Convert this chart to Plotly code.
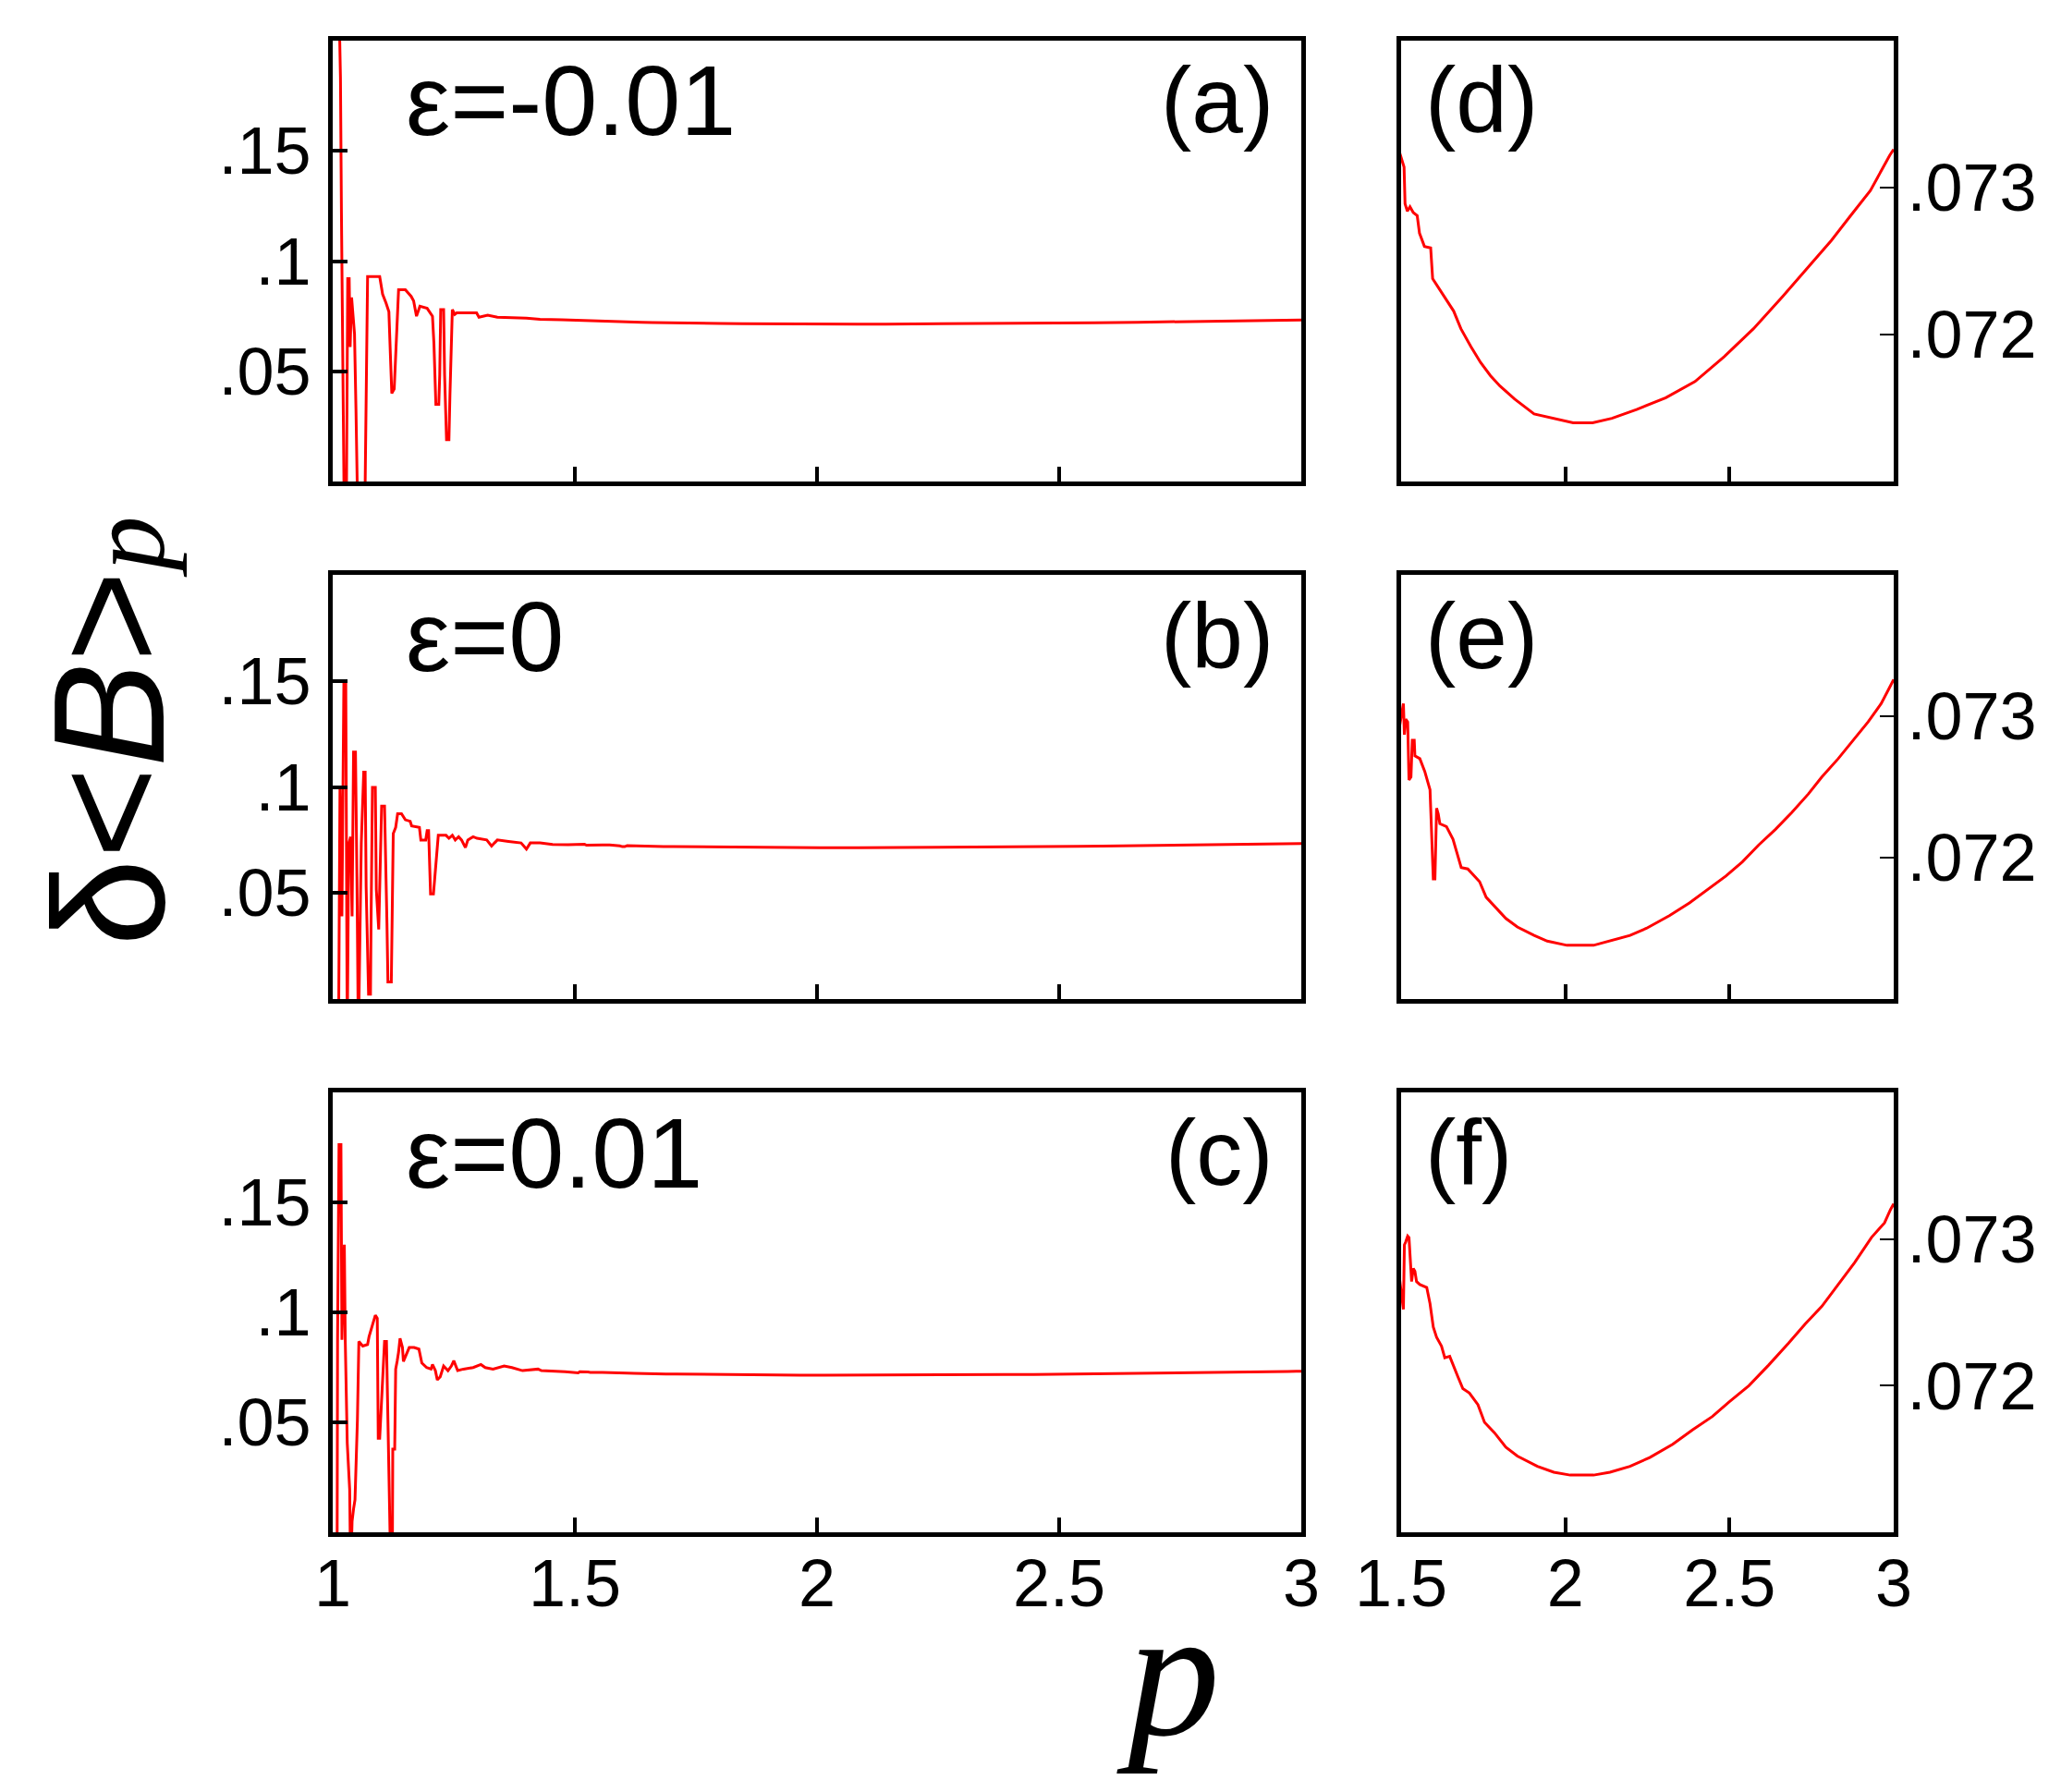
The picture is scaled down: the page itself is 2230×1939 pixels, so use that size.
import plotly.graph_objects as go

# ---- data: p and delta<B>_p for the three epsilon values ----
p_neg = [1.004, 1.013, 1.016, 1.018, 1.021, 1.024, 1.028, 1.031, 1.034, 1.036, 1.039, 1.042, 1.045,
         1.048, 1.052, 1.066, 1.069, 1.072, 1.097, 1.103, 1.110, 1.116, 1.119, 1.122, 1.127, 1.130,
         1.133, 1.136, 1.150, 1.162, 1.167, 1.173, 1.180, 1.195, 1.206, 1.209, 1.213, 1.219, 1.221,
         1.223, 1.229, 1.231, 1.235, 1.240, 1.242, 1.244, 1.247, 1.252, 1.256, 1.297, 1.302, 1.320,
         1.340, 1.400, 1.428, 1.473,
         1.509, 1.512, 1.519, 1.527, 1.537, 1.549, 1.556, 1.571, 1.590, 1.596, 1.616, 1.638, 1.660,
         1.682, 1.712, 1.742, 1.772, 1.801, 1.846, 1.905, 1.964, 2.024, 2.083, 2.142, 2.217, 2.306,
         2.395, 2.484, 2.573, 2.662, 2.736, 2.810, 2.869, 2.929, 2.988, 3.000]
b_neg = [0.32, 0.215, 0.183, 0.122, 0.061, -0.02, -0.02, 0.092, 0.092, 0.061, 0.0835, 0.075, 0.067,
         0.033, -0.02, -0.02, 0.047, 0.093, 0.093, 0.085, 0.081, 0.077, 0.058, 0.040, 0.042, 0.058,
         0.075, 0.087, 0.087, 0.084, 0.082, 0.075, 0.0795, 0.0786, 0.075, 0.0625, 0.035, 0.035, 0.0485,
         0.078, 0.078, 0.0485, 0.019, 0.019, 0.0387, 0.058, 0.078, 0.0758, 0.0765, 0.0765, 0.0745, 0.0755,
         0.0745, 0.0741, 0.0736, 0.0734,
         0.07314, 0.07289, 0.07284, 0.07287, 0.07283, 0.07281, 0.07269, 0.07260, 0.07259, 0.07238,
         0.07231, 0.07223, 0.07216, 0.07204, 0.07192, 0.07181, 0.07172, 0.07165, 0.07156, 0.07146,
         0.07143, 0.07140, 0.07140, 0.07143, 0.07149, 0.07157, 0.07168, 0.07185, 0.07204, 0.07226,
         0.07245, 0.07264, 0.07281, 0.07298, 0.07322, 0.07326]

p_zero = [1.000, 1.012, 1.015, 1.019, 1.023, 1.027, 1.030, 1.033, 1.037, 1.040, 1.043, 1.047, 1.050,
          1.053, 1.059, 1.064, 1.067, 1.069, 1.074, 1.078, 1.079, 1.082, 1.088, 1.090, 1.095, 1.098,
          1.101, 1.107, 1.110, 1.112, 1.114, 1.121, 1.123, 1.125, 1.130, 1.134, 1.142, 1.150, 1.160,
          1.163, 1.179, 1.182, 1.192, 1.195, 1.198, 1.200, 1.202, 1.208, 1.211, 1.215, 1.218, 1.234,
          1.240, 1.247, 1.253, 1.260, 1.266, 1.274, 1.279, 1.290, 1.298, 1.318, 1.328, 1.334, 1.340,
          1.363, 1.389, 1.400, 1.408, 1.428, 1.454, 1.486,
          1.507, 1.510, 1.514, 1.520, 1.524, 1.530, 1.534, 1.540, 1.542, 1.557, 1.572, 1.588, 1.593,
          1.598, 1.603, 1.608, 1.613, 1.618, 1.638, 1.658, 1.668, 1.683, 1.703, 1.739, 1.759, 1.794,
          1.819, 1.854, 1.905, 1.945, 2.005, 2.086, 2.136, 2.197, 2.247, 2.317, 2.378, 2.438, 2.489,
          2.539, 2.589, 2.640, 2.690, 2.740, 2.781, 2.831, 2.881, 2.922, 2.962, 2.990, 3.000]
b_zero = [-0.02, -0.02, 0.100, 0.039, 0.1485, 0.1485, -0.02, 0.073, 0.0765, 0.039, 0.1165, 0.1165, 0.0576,
          -0.02, 0.0736, 0.107, 0.107, 0.0532, 0.0023, 0.0023, 0.0328, 0.0998, 0.0998, 0.0517, 0.0328, 0.0619,
          0.091, 0.091, 0.0619, 0.0357, 0.0081, 0.0081, 0.043, 0.078, 0.0809, 0.0874, 0.0874, 0.0845, 0.0838,
          0.0816, 0.0809, 0.075, 0.075, 0.0794, 0.0794, 0.0648, 0.0496, 0.0496, 0.059, 0.0685, 0.0772, 0.0772,
          0.0758, 0.0772, 0.0750, 0.0765, 0.0750, 0.0714, 0.0750, 0.0765, 0.0758, 0.0750, 0.0721, 0.0736, 0.0750,
          0.0743, 0.0736, 0.0707, 0.0736, 0.0736, 0.0729, 0.0728,
          0.07309, 0.07287, 0.07298, 0.07296, 0.07255, 0.07257, 0.07283, 0.07283, 0.07272, 0.07270, 0.07261,
          0.07248, 0.07218, 0.07185, 0.07185, 0.07235, 0.07231, 0.07224, 0.07222, 0.07213, 0.07205, 0.07193,
          0.07192, 0.07183, 0.07172, 0.07163, 0.07157, 0.07151, 0.07145, 0.07141, 0.07138, 0.07138, 0.07141,
          0.07145, 0.07150, 0.07159, 0.07168, 0.07178, 0.07187, 0.07197, 0.07209, 0.07220, 0.07232, 0.07245,
          0.07257, 0.07270, 0.07284, 0.07296, 0.07309, 0.07322, 0.07326]

p_pos = [1.000, 1.009, 1.010, 1.013, 1.017, 1.019, 1.024, 1.026, 1.030, 1.035, 1.037, 1.040, 1.043,
         1.046, 1.051, 1.054, 1.062, 1.072, 1.075, 1.081, 1.088, 1.092, 1.093, 1.094, 1.097, 1.101,
         1.104, 1.107, 1.111, 1.113, 1.115, 1.120, 1.123, 1.124, 1.128, 1.130, 1.133, 1.136, 1.139,
         1.144, 1.146, 1.152, 1.158, 1.168, 1.178, 1.184, 1.194, 1.203, 1.206, 1.212, 1.216, 1.222,
         1.229, 1.238, 1.245, 1.250, 1.258, 1.270, 1.290, 1.306, 1.315, 1.331, 1.354, 1.370, 1.392,
         1.424, 1.431, 1.480,
         1.507, 1.510, 1.514, 1.520, 1.524, 1.527, 1.532, 1.537, 1.542, 1.547, 1.557, 1.578, 1.588,
         1.598, 1.608, 1.623, 1.633, 1.648, 1.658, 1.673, 1.688, 1.708, 1.734, 1.754, 1.784, 1.819,
         1.854, 1.915, 1.965, 2.015, 2.086, 2.136, 2.197, 2.257, 2.327, 2.388, 2.448, 2.499, 2.559,
         2.619, 2.680, 2.730, 2.781, 2.831, 2.881, 2.932, 2.972, 2.990, 3.000]
b_pos = [-0.02, -0.02, 0.0875, 0.1763, 0.1763, 0.0875, 0.1308, 0.0861, 0.0406, 0.0196, -0.02, 0.005, 0.0106,
         0.0148, 0.0511, 0.0868, 0.0847, 0.0854, 0.0889, 0.0931, 0.0987, 0.0973, 0.0707, 0.0427, 0.0427, 0.0581,
         0.0707, 0.0868, 0.0868, 0.0581, 0.0287, -0.02, -0.02, 0.0378, 0.0378, 0.0742, 0.0777, 0.0819, 0.0882,
         0.0840, 0.0777, 0.0805, 0.0840, 0.0840, 0.0833, 0.0770, 0.0749, 0.0742, 0.0763, 0.0735, 0.0693, 0.0707,
         0.0756, 0.0735, 0.0756, 0.0780, 0.0735, 0.0742, 0.0749, 0.0763, 0.0749, 0.0742, 0.0756, 0.0749, 0.0735,
         0.0742, 0.0735, 0.0730,
         0.07252, 0.07296, 0.07298, 0.07302, 0.07301, 0.07286, 0.07271, 0.07280, 0.07278, 0.07271, 0.07269,
         0.07267, 0.07256, 0.07240, 0.07233, 0.07227, 0.07219, 0.07220, 0.07214, 0.07206, 0.07198, 0.07195,
         0.07187, 0.07175, 0.07168, 0.07158, 0.07152, 0.07145, 0.07141, 0.07139, 0.07139, 0.07141, 0.07145,
         0.07151, 0.07160, 0.07170, 0.07179, 0.07189, 0.07200, 0.07214, 0.07229, 0.07242, 0.07254, 0.07269,
         0.07284, 0.07301, 0.07311, 0.07320, 0.07324]

eps_labels = ["ε=-0.01", "ε=0", "ε=0.01"]
left_tags = ["(a)", "(b)", "(c)"]
right_tags = ["(d)", "(e)", "(f)"]

left_xticks = [1, 1.5, 2, 2.5, 3]
left_yticks = [0.05, 0.1, 0.15]
left_ytext = [".05", ".1", ".15"]
right_xticks = [1.5, 2, 2.5, 3]
right_yticks = [0.072, 0.073]
right_ytext = [".072", ".073"]

W, H = 2230, 1939
FONT = "Liberation Sans, Arial, sans-serif"


def px(x):
    return x / W


def py(y):
    return 1 - y / H


rows = [(36, 513), (614, 1073), (1174, 1650)]   # pixel top/bottom of each row
left_dom = [px(352), px(1400)]
right_dom = [px(1508), px(2041)]

series = [(p_neg, b_neg), (p_zero, b_zero), (p_pos, b_pos)]

fig = go.Figure()
layout = {}
tickfont = dict(family=FONT, size=72, color="black")
common = dict(showgrid=False, zeroline=False, automargin=False, tickcolor="black")

for r, (ps, bs) in enumerate(series):
    ydom = [py(rows[r][1]), py(rows[r][0])]
    bottom = r == 2
    for c in range(2):
        i = r * 2 + c + 1
        j = i + 6
        fig.add_trace(go.Scatter(x=ps, y=bs, mode="lines", line=dict(color="#ff0000", width=3),
                                 xaxis=f"x{i}", yaxis=f"y{i}", showlegend=False, hoverinfo="skip"))
        if c == 0:
            xr, xt = [1, 3], left_xticks
            yr, yt, ytt = [0, 0.2], left_yticks, left_ytext
            xdom = left_dom
        else:
            xr, xt = [1.5, 3], right_xticks
            yr, yt, ytt = [0.071, 0.074], right_yticks, right_ytext
            xdom = right_dom
        layout[f"xaxis{i}"] = dict(domain=xdom, range=xr, anchor=f"y{i}", tickvals=xt,
                                   ticktext=[str(v) for v in xt],
                                   ticks="inside", ticklen=16, tickwidth=4,
                                   showline=True, linewidth=5, linecolor="black", mirror=True,
                                   showticklabels=bottom, tickfont=tickfont, ticklabelstandoff=-11, **common)
        layout[f"xaxis{j}"] = dict(overlaying=f"x{i}", anchor=f"y{i}", side="top", range=xr, tickvals=xt,
                                   ticks="inside", ticklen=9, tickwidth=2,
                                   showline=False, showticklabels=False, **common)
        if c == 0:
            layout[f"yaxis{i}"] = dict(domain=ydom, range=yr, anchor=f"x{i}", tickvals=yt, ticktext=ytt,
                                       ticks="inside", ticklen=16, tickwidth=4,
                                       showline=True, linewidth=5, linecolor="black", mirror=True,
                                       tickfont=tickfont, ticklabelstandoff=4, **common)
            layout[f"yaxis{j}"] = dict(overlaying=f"y{i}", anchor=f"x{i}", side="right", range=yr,
                                       tickvals=yt, ticks="inside", ticklen=9, tickwidth=2,
                                       showline=False, showticklabels=False, **common)
        else:
            layout[f"yaxis{i}"] = dict(domain=ydom, range=yr, anchor=f"x{i}", side="right", tickvals=yt,
                                       ticktext=ytt, ticks="inside", ticklen=15, tickwidth=2,
                                       showline=True, linewidth=5, linecolor="black",
                                       mirror=True, tickfont=tickfont, ticklabelstandoff=-5, **common)
            layout[f"yaxis{j}"] = dict(overlaying=f"y{i}", anchor=f"x{i}", side="left", range=yr,
                                       tickvals=yt, ticks="inside", ticklen=10, tickwidth=4,
                                       showline=False, showticklabels=False, **common)

annotations = []
label_y = [100, 680, 1239]
for r in range(3):
    annotations.append(dict(text=eps_labels[r], x=px(429), y=py(label_y[r]), xref="paper", yref="paper",
                            xanchor="left", yanchor="middle", showarrow=False,
                            font=dict(family=FONT, size=108, color="black")))
    annotations.append(dict(text=left_tags[r], x=px(1372), y=py(label_y[r]), xref="paper", yref="paper",
                            xanchor="right", yanchor="middle", showarrow=False,
                            font=dict(family=FONT, size=100, color="black")))
    annotations.append(dict(text=right_tags[r], x=px(1532), y=py(label_y[r]), xref="paper", yref="paper",
                            xanchor="left", yanchor="middle", showarrow=False,
                            font=dict(family=FONT, size=100, color="black")))

ytitle = ('δ&lt;<i>B</i>&gt;'
          '<span style="font-family:Liberation Serif;font-size:118px"><i>p</i></span>')
annotations.append(dict(text=ytitle, x=px(110), y=py(783), xref="paper", yref="paper", textangle=-90,
                        xanchor="center", yanchor="middle", showarrow=False,
                        font=dict(family=FONT, size=170, color="black")))
annotations.append(dict(text="<i>p</i>", x=px(1256), y=py(1801), xref="paper", yref="paper",
                        xanchor="center", yanchor="middle", showarrow=False,
                        font=dict(family="Liberation Serif, Times New Roman, serif", size=200, color="black")))

fig.update_layout(template="none", width=W, height=H, margin=dict(l=0, r=0, t=0, b=0, pad=0),
                  paper_bgcolor="white", plot_bgcolor="white", annotations=annotations, **layout)

fig.write_html("out.html")
